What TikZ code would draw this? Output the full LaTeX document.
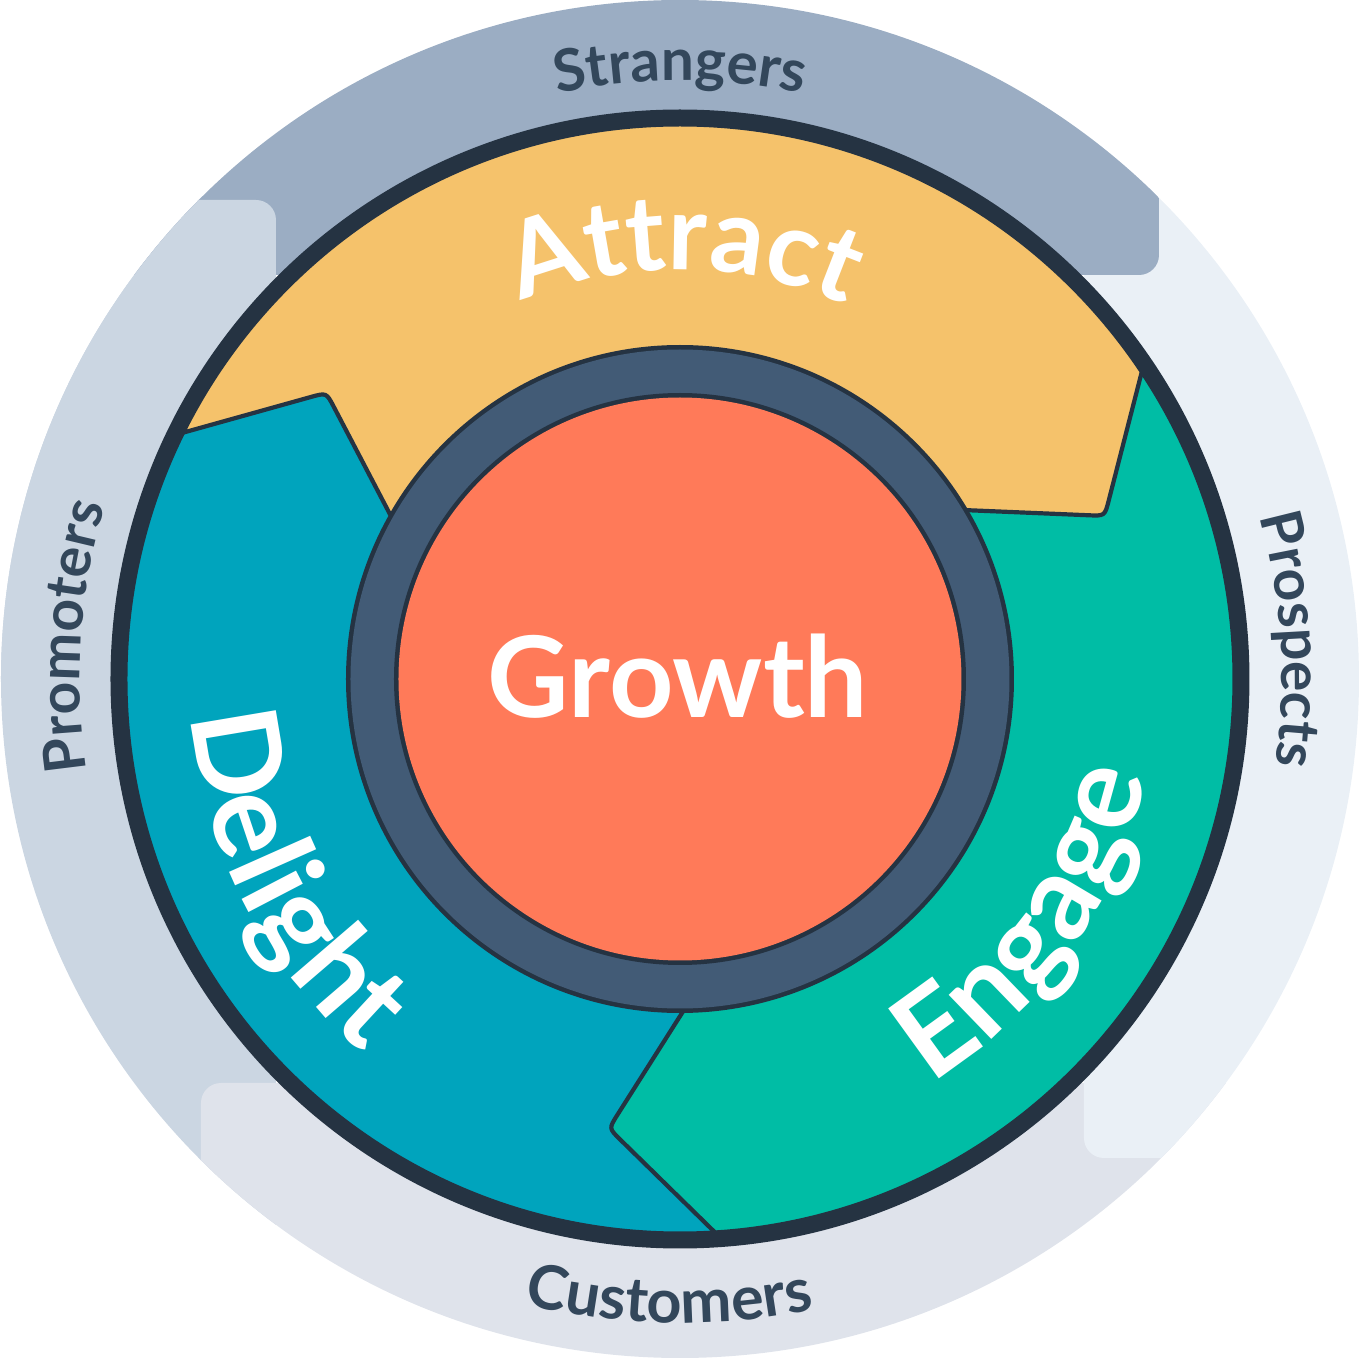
\documentclass[tikz,border=0pt]{standalone}
\usepackage{fontspec}
\setmainfont{Lato}
\usetikzlibrary{decorations.text,calc}
\definecolor{ringA}{HTML}{9BADC3}
\definecolor{ringB}{HTML}{EAF0F6}
\definecolor{ringC}{HTML}{DFE3EB}
\definecolor{ringD}{HTML}{CBD6E2}
\definecolor{navy}{HTML}{253342}
\definecolor{slate}{HTML}{425B76}
\definecolor{labeltxt}{HTML}{33475B}
\definecolor{growthorange}{HTML}{FF7A59}
\definecolor{attractc}{HTML}{F5C26B}
\definecolor{engagec}{HTML}{00BDA5}
\definecolor{delightc}{HTML}{00A4BD}
\begin{document}
\begin{tikzpicture}[x=0.1mm,y=0.1mm,
  quad/.style={rounded corners=2mm},
  segline/.style={draw=navy, line width=0.42mm, line join=round},
  outerlabel/.style 2 args={decorate, decoration={text along path, text align=center, text color=labeltxt,
      text={|\fontsize{#1}{#1}\selectfont\bfseries|#2}}},
  bigword/.style 2 args={decorate, decoration={text along path, text align=center, text color=white,
      text={|\fontsize{#1}{#1}\selectfont\bfseries|#2}}}]
\useasboundingbox (-680,-679) rectangle (680,679);
% outer ring quadrants
\begin{scope}
  \clip (0,0) circle[radius=679];
  \fill[ringD, quad] (-900,-900) rectangle (-404,479);
  \fill[ringC, quad] (-479,-900) rectangle (900,-404);
  \fill[ringB, quad] (404,-479) rectangle (900,900);
  \fill[ringA, quad] (-900,404) rectangle (479,900);
  \fill[ringD, quad] (-900,0) rectangle (-404,479);
\end{scope}
% boundary coordinates
\coordinate (b2i) at (30.8:330);  \coordinate (b2t) at (21:455);  \coordinate (b2o) at (34.3:562);
\coordinate (b3i) at (270.8:330); \coordinate (b3t) at (261:455); \coordinate (b3o) at (274.3:562);
\coordinate (b1i) at (150.8:330); \coordinate (b1t) at (141:455); \coordinate (b1o) at (154.3:562);
\foreach \b in {b1,b2,b3}{
  \coordinate (\b a) at ($(\b t)!1.6mm!(\b o)$);
  \coordinate (\b b) at ($(\b t)!1.6mm!(\b i)$);
}
% segments
\fill[attractc] (b1o) arc[start angle=154.3, end angle=34.3, radius=562] -- (b2a) .. controls (b2t) .. (b2b) -- (b2i)
   arc[start angle=30.8, end angle=150.8, radius=330] -- (b1b) .. controls (b1t) .. (b1a) -- cycle;
\fill[engagec] (b2o) arc[start angle=34.3, end angle=-85.7, radius=562] -- (b3a) .. controls (b3t) .. (b3b) -- (b3i)
   arc[start angle=-89.2, end angle=30.8, radius=330] -- (b2b) .. controls (b2t) .. (b2a) -- cycle;
\fill[delightc] (b3o) arc[start angle=274.3, end angle=154.3, radius=562] -- (b1a) .. controls (b1t) .. (b1b) -- (b1i)
   arc[start angle=150.8, end angle=270.8, radius=330] -- (b3b) .. controls (b3t) .. (b3a) -- cycle;
\foreach \b in {b1,b2,b3}{
  \draw[segline] (\b i) -- (\b b) .. controls (\b t) .. (\b a) -- (\b o);
}
% dark outer ring
\draw[navy, line width=1.7mm] (0,0) circle[radius=561];
% inner slate ring and growth disc
\fill[navy] (0,0) circle[radius=334];
\fill[slate] (0,0) circle[radius=329.5];
\fill[navy] (0,0) circle[radius=286];
\fill[growthorange] (0,0) circle[radius=281.5];
\node[text=white, font=\fontsize{32}{32}\selectfont\bfseries, anchor=base, inner sep=0] (growth) at (-2,-39) {Growth};
% big words
\path[bigword={30}{Attract}] (149.5:409) arc[start angle=149.5, end angle=29.5, radius=409];
\path[bigword={34}{Delight}] (147:490) arc[start angle=147, end angle=267, radius=490];
\path[bigword={34}{Engage}] (265:476) arc[start angle=265, end angle=385, radius=476];
% outer labels
\path[outerlabel={16.6}{Strangers}] (150:598) arc[start angle=150, end angle=30, radius=598];
\path[outerlabel={17.4}{Customers}] (229:644) arc[start angle=229, end angle=309, radius=644];
\path[outerlabel={16.2}{Prospects}] (43.7:602) arc[start angle=43.7, end angle=-36.3, radius=602];
\path[outerlabel={16.2}{Promoters}] (216:600) arc[start angle=216, end angle=136, radius=600];
\end{tikzpicture}
\end{document}
